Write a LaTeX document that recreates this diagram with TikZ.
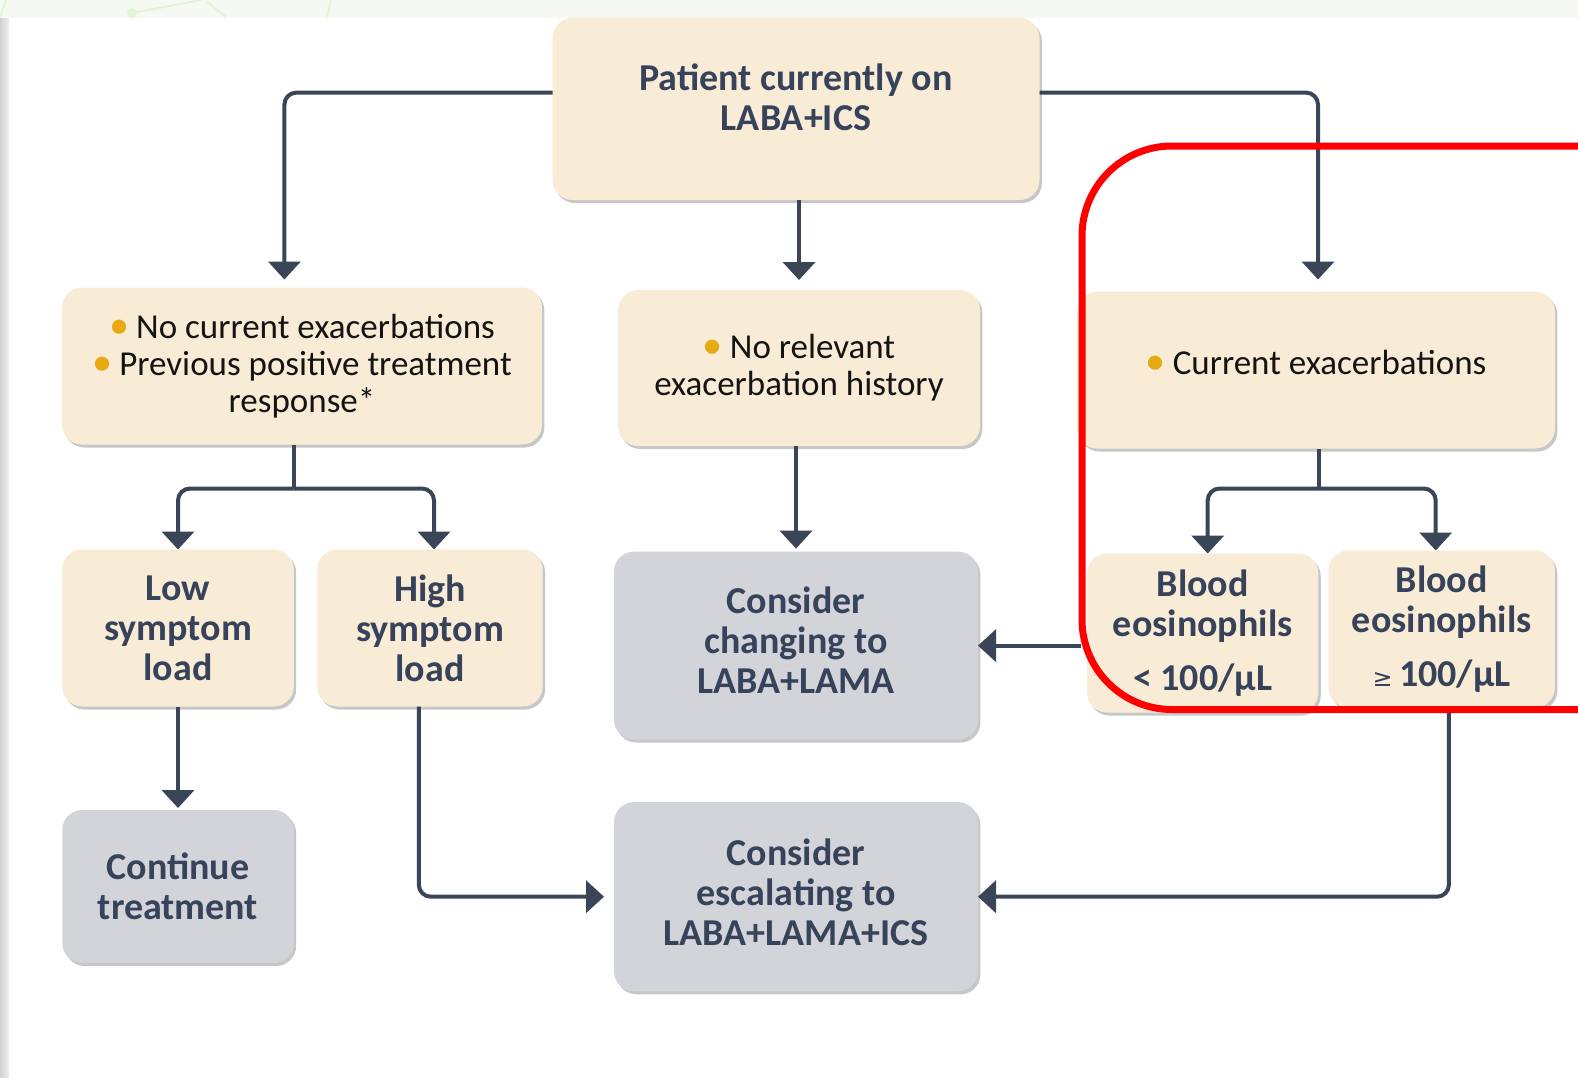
\documentclass[tikz,border=0pt]{standalone}
\usepackage{fontspec}
\setmainfont{Carlito}
\newfontfamily\symfont{DejaVu Sans}
\usetikzlibrary{arrows.meta,shadows}

\definecolor{boxcream}{HTML}{F9ECD6}
\definecolor{boxgrey}{HTML}{D3D4D9}
\definecolor{inknavy}{HTML}{36435A}
\definecolor{linenavy}{HTML}{3A4558}
\definecolor{bulletgold}{HTML}{E8AA14}
\definecolor{framered}{HTML}{FF0000}
\definecolor{bandgreen}{HTML}{F6F9F2}
\definecolor{leafgreen}{HTML}{E2F4D4}

\newcommand{\bul}{\textcolor{bulletgold}{\scalebox{1.15}{•}}\hspace{0.2em}}

\tikzset{
  box/.style={rounded corners=10pt, inner sep=0pt, outer sep=0pt, align=center,
    drop shadow={shadow xshift=1.2pt, shadow yshift=-1.5pt, opacity=0.22, fill=black}},
  cream/.style={box, fill=boxcream},
  greybox/.style={box, fill=boxgrey},
  headtext/.style={font=\fontsize{19}{20}\selectfont\bfseries, text=inknavy},
  listtext/.style={font=\fontsize{17.5}{18.5}\selectfont, text=black!92},
  link/.style={draw=linenavy, line width=2pt, rounded corners=6pt},
  flow/.style={link, -{Triangle[width=16pt,length=9pt]}},
  redframe/.style={draw=framered, line width=3.5pt, rounded corners=45pt},
}

\begin{document}
\begin{tikzpicture}[x=0.5pt,y=-0.5pt]
\path[use as bounding box, clip] (0,0) rectangle (1578,1077);
\fill[white] (0,0) rectangle (1578,1077);
% slide background
\fill[bandgreen] (0,0) rectangle (1578,18);
\draw[leafgreen, line width=1pt] (0,17) -- (6,0) (132,13) -- (201,0) (207,2) -- (226,17) (331,0) -- (327,17);
\fill[leafgreen] (132,13) circle (5);
\shade[left color=black!18, right color=black!6] (0,18) rectangle (9,1077);

% boxes
\node[cream, headtext, minimum width=243.5pt, minimum height=91pt, text depth=12pt] (Top) at (796,109) {Patient currently on\\LABA+ICS};
\node[cream, listtext, minimum width=240pt, minimum height=78.5pt] (NoExac) at (302,366) {\bul No current exacerbations\\\bul Previous positive treatment\\response*};
\node[cream, listtext, minimum width=181pt, minimum height=78pt] (NoHist) at (799,368) {\bul No relevant\\exacerbation history};
\node[cream, listtext, minimum width=239pt, minimum height=78.5pt, text depth=8pt] (CurExac) at (1316,370) {\bul Current exacerbations};
\node[cream, headtext, minimum width=115.75pt, minimum height=78.5pt] (Low) at (178,628) {Low\\symptom\\load};
\node[cream, headtext, minimum width=112.7pt, minimum height=78.5pt] (High) at (430,628) {High\\symptom\\load};
\node[greybox, headtext, minimum width=115.75pt, minimum height=76.5pt] (Continue) at (178,886.5) {Continue\\treatment};
\node[greybox, headtext, minimum width=182pt, minimum height=94pt, text depth=5pt] (Changing) at (796,645.6) {Consider\\changing to\\LABA+LAMA};
\node[greybox, headtext, minimum width=182pt, minimum height=94.6pt, text depth=5pt] (Escalate) at (796,896.7) {Consider\\escalating to\\LABA+LAMA+ICS};
\node[cream, headtext, minimum width=115.7pt, minimum height=79.5pt] (EosLow) at (1202.7,633) {Blood\\eosinophils\\[7pt]< 100/µL};
\node[cream, headtext, minimum width=113.2pt, minimum height=78.5pt] (EosHigh) at (1441.7,629) {Blood\\eosinophils\\[7pt]{\symfont\fontsize{12}{12}\selectfont\mdseries ≥}\,100/µL};

% connectors
\draw[flow, shorten >=4pt] ([yshift=8.2pt]Top.west) -| ([xshift=-8.8pt]NoExac.north);
\draw[flow, shorten >=5pt] (NoHist.north |- Top.south) -- (NoHist.north);
\draw[flow, shorten >=6pt] ([yshift=8.2pt]Top.east) -| ([xshift=1pt]CurExac.north);

\coordinate (leftsplit) at ([xshift=-4.2pt,yshift=-22pt]NoExac.south);
\draw[link] ([xshift=-4.2pt]NoExac.south) -- (leftsplit);
\draw[flow] (leftsplit) -| (Low.north);
\draw[flow] (leftsplit) -| ([xshift=2pt]High.north);
\draw[flow, shorten >=1pt] (Low.south) -- (Continue.north);
\draw[flow, shorten >=5pt] ([xshift=-5.6pt]High.south) |- (Escalate.west);

\draw[flow, shorten >=1.5pt] (Changing.north |- NoHist.south) -- (Changing.north);

\coordinate (rightsplit) at ([xshift=1.5pt,yshift=-20pt]CurExac.south);
\draw[link] ([xshift=1.5pt]CurExac.south) -- (rightsplit);
\draw[flow] (rightsplit) -| ([xshift=2.5pt]EosLow.north);
\draw[flow] (rightsplit) -| ([xshift=-3pt]EosHigh.north);
\draw[flow] ([xshift=-3pt]EosLow.west |- Changing.east) -- (Changing.east);
\draw[flow] ([xshift=3.6pt]EosHigh.south) |- (Escalate.east);

% highlight frame
\draw[redframe] (1640,146) -- (1082,146) -- (1082,709.5) -- (1640,709.5);
\end{tikzpicture}
\end{document}
